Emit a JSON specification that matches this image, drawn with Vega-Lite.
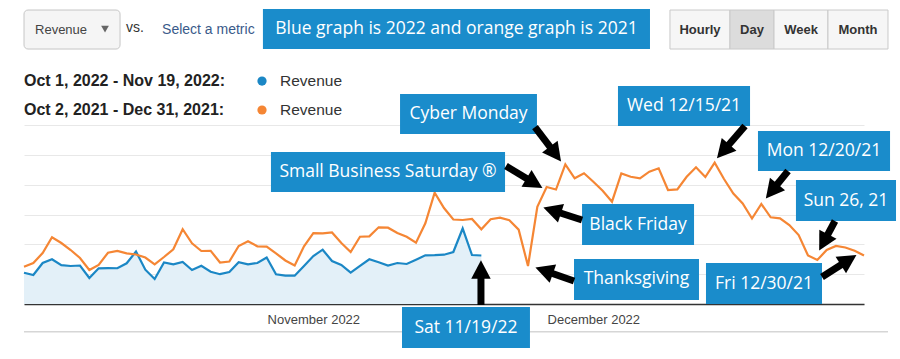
{
  "$schema": "https://vega.github.io/schema/vega-lite/v6.json",
  "width": 840,
  "height": 179,
  "autosize": {"type": "none"},
  "padding": {"left": 24, "top": 125, "right": 36, "bottom": 55},
  "background": "white",
  "config": {"view": {"stroke": null}},
  "datasets": {
    "series": [
      {"period":"2022","day":0,"revenue":1259},{"period":"2022","day":1,"revenue":1166},{"period":"2022","day":2,"revenue":1649},{"period":"2022","day":3,"revenue":1802},{"period":"2022","day":4,"revenue":1561},{"period":"2022","day":5,"revenue":1528},{"period":"2022","day":6,"revenue":1548},{"period":"2022","day":7,"revenue":1046},{"period":"2022","day":8,"revenue":1436},{"period":"2022","day":9,"revenue":1440},
      {"period":"2022","day":10,"revenue":1438},{"period":"2022","day":11,"revenue":1637},{"period":"2022","day":12,"revenue":2112},{"period":"2022","day":13,"revenue":1380},{"period":"2022","day":14,"revenue":1006},{"period":"2022","day":15,"revenue":1669},{"period":"2022","day":16,"revenue":1597},{"period":"2022","day":17,"revenue":1689},{"period":"2022","day":18,"revenue":1367},{"period":"2022","day":19,"revenue":1536},
      {"period":"2022","day":20,"revenue":1299},{"period":"2022","day":21,"revenue":1199},{"period":"2022","day":22,"revenue":1287},{"period":"2022","day":23,"revenue":1681},{"period":"2022","day":24,"revenue":1597},{"period":"2022","day":25,"revenue":1649},{"period":"2022","day":26,"revenue":1870},{"period":"2022","day":27,"revenue":1195},{"period":"2022","day":28,"revenue":1138},{"period":"2022","day":29,"revenue":1140},
      {"period":"2022","day":30,"revenue":1528},{"period":"2022","day":31,"revenue":1931},{"period":"2022","day":32,"revenue":2184},{"period":"2022","day":33,"revenue":1729},{"period":"2022","day":34,"revenue":1569},{"period":"2022","day":35,"revenue":1259},{"period":"2022","day":36,"revenue":1530},{"period":"2022","day":37,"revenue":1798},{"period":"2022","day":38,"revenue":1677},{"period":"2022","day":39,"revenue":1548},
      {"period":"2022","day":40,"revenue":1649},{"period":"2022","day":41,"revenue":1609},{"period":"2022","day":42,"revenue":1782},{"period":"2022","day":43,"revenue":1959},{"period":"2022","day":44,"revenue":1963},{"period":"2022","day":45,"revenue":1983},{"period":"2022","day":46,"revenue":2091},{"period":"2022","day":47,"revenue":3037},{"period":"2022","day":48,"revenue":1971},{"period":"2022","day":49,"revenue":1951},
      {"period":"2021","day":0,"revenue":1500},{"period":"2021","day":1,"revenue":1649},{"period":"2021","day":2,"revenue":2051},{"period":"2021","day":3,"revenue":2683},{"period":"2021","day":4,"revenue":2453},{"period":"2021","day":5,"revenue":2172},{"period":"2021","day":6,"revenue":1850},{"period":"2021","day":7,"revenue":1367},{"period":"2021","day":8,"revenue":1569},{"period":"2021","day":9,"revenue":2063},
      {"period":"2021","day":10,"revenue":2132},{"period":"2021","day":11,"revenue":2039},{"period":"2021","day":12,"revenue":1991},{"period":"2021","day":13,"revenue":1870},{"period":"2021","day":14,"revenue":1597},{"period":"2021","day":15,"revenue":1890},{"period":"2021","day":16,"revenue":2200},{"period":"2021","day":17,"revenue":3008},{"period":"2021","day":18,"revenue":2441},{"period":"2021","day":19,"revenue":2132},
      {"period":"2021","day":20,"revenue":2140},{"period":"2021","day":21,"revenue":1669},{"period":"2021","day":22,"revenue":1709},{"period":"2021","day":23,"revenue":2333},{"period":"2021","day":24,"revenue":2522},{"period":"2021","day":25,"revenue":2321},{"period":"2021","day":26,"revenue":2305},{"period":"2021","day":27,"revenue":2039},{"period":"2021","day":28,"revenue":1750},{"period":"2021","day":29,"revenue":1548},
      {"period":"2021","day":30,"revenue":2321},{"period":"2021","day":31,"revenue":2848},{"period":"2021","day":32,"revenue":2840},{"period":"2021","day":33,"revenue":2876},{"period":"2021","day":34,"revenue":2453},{"period":"2021","day":35,"revenue":2091},{"period":"2021","day":36,"revenue":2707},{"period":"2021","day":37,"revenue":2723},{"period":"2021","day":38,"revenue":3085},{"period":"2021","day":39,"revenue":3069},
      {"period":"2021","day":40,"revenue":2856},{"period":"2021","day":41,"revenue":2707},{"period":"2021","day":42,"revenue":2466},{"period":"2021","day":43,"revenue":3246},{"period":"2021","day":44,"revenue":4476},{"period":"2021","day":45,"revenue":3861},{"period":"2021","day":46,"revenue":3399},{"period":"2021","day":47,"revenue":3378},{"period":"2021","day":48,"revenue":3419},{"period":"2021","day":49,"revenue":3004},
      {"period":"2021","day":50,"revenue":3410},{"period":"2021","day":51,"revenue":3471},{"period":"2021","day":52,"revenue":3370},{"period":"2021","day":53,"revenue":2990},{"period":"2021","day":54,"revenue":1528},{"period":"2021","day":55,"revenue":3913},{"period":"2021","day":56,"revenue":4706},{"period":"2021","day":57,"revenue":4605},{"period":"2021","day":58,"revenue":5619},{"period":"2021","day":59,"revenue":5056},
      {"period":"2021","day":60,"revenue":5257},{"period":"2021","day":61,"revenue":4919},{"period":"2021","day":62,"revenue":4553},{"period":"2021","day":63,"revenue":4115},{"period":"2021","day":64,"revenue":5250},{"period":"2021","day":65,"revenue":5120},{"period":"2021","day":66,"revenue":5050},{"period":"2021","day":67,"revenue":5321},{"period":"2021","day":68,"revenue":5458},{"period":"2021","day":69,"revenue":4585},
      {"period":"2021","day":70,"revenue":4613},{"period":"2021","day":71,"revenue":5115},{"period":"2021","day":72,"revenue":5498},{"period":"2021","day":73,"revenue":5108},{"period":"2021","day":74,"revenue":5683},{"period":"2021","day":75,"revenue":5028},{"period":"2021","day":76,"revenue":4444},{"period":"2021","day":77,"revenue":4042},{"period":"2021","day":78,"revenue":3439},{"period":"2021","day":79,"revenue":4022},
      {"period":"2021","day":80,"revenue":3487},{"period":"2021","day":81,"revenue":3447},{"period":"2021","day":82,"revenue":3177},{"period":"2021","day":83,"revenue":2775},{"period":"2021","day":84,"revenue":1951},{"period":"2021","day":85,"revenue":1770},{"period":"2021","day":86,"revenue":2172},{"period":"2021","day":87,"revenue":2333},{"period":"2021","day":88,"revenue":2272},{"period":"2021","day":89,"revenue":2144},
      {"period":"2021","day":90,"revenue":1950}
    ],
    "notes": [
      {"label":"Blue graph is 2022 and orange graph is 2021","d1":25.6,"d2":67.07,"vTop":11865,"vBot":10256},
      {"label":"Cyber Monday","d1":40.29,"d2":54.96,"vTop":8446,"vBot":6837},
      {"label":"Wed 12/15/21","d1":63.64,"d2":77.79,"vTop":8768,"vBot":7159},
      {"label":"Small Business Saturday ®","d1":26.46,"d2":51.54,"vTop":6113,"vBot":4505},
      {"label":"Mon 12/20/21","d1":78.64,"d2":92.79,"vTop":6958,"vBot":5349},
      {"label":"Sun 26, 21","d1":82.71,"d2":93.43,"vTop":4987,"vBot":3338},
      {"label":"Black Friday","d1":59.79,"d2":71.79,"vTop":4022,"vBot":2373},
      {"label":"Thanksgiving","d1":58.93,"d2":72.32,"vTop":1810,"vBot":161},
      {"label":"Fri 12/30/21","d1":73.07,"d2":85.5,"vTop":1649,"vBot":0},
      {"label":"Sat 11/19/22","d1":40.5,"d2":54.21,"vTop":-121,"vBot":-1770}
    ],
    "arrows": [
      {"label":"Cyber Monday","fromDay":54.75,"fromRevenue":7119,"toDay":56.91,"toRevenue":6049},
      {"label":"Wed 12/15/21","fromDay":77.25,"fromRevenue":7159,"toDay":74.93,"toRevenue":6154},
      {"label":"Small Business Saturday","fromDay":51.64,"fromRevenue":5550,"toDay":54.65,"toRevenue":4871},
      {"label":"Black Friday","fromDay":59.79,"fromRevenue":3378,"toDay":56.64,"toRevenue":3761},
      {"label":"Thanksgiving","fromDay":58.93,"fromRevenue":925,"toDay":55.78,"toRevenue":1339},
      {"label":"Mon 12/20/21","fromDay":81.86,"fromRevenue":5349,"toDay":80.14,"toRevenue":4553},
      {"label":"Sun 26, 21","fromDay":86.89,"fromRevenue":3338,"toDay":85.69,"toRevenue":2494},
      {"label":"Fri 12/30/21","fromDay":85.5,"fromRevenue":1086,"toDay":88.31,"toRevenue":1758},
      {"label":"Sat 11/19/22","fromDay":48.96,"fromRevenue":-40,"toDay":48.96,"toRevenue":1367}
    ],
    "buttons": [
      {"label":"Hourly","state":"off","d1":69.21,"d2":75.64,"vTop":11825,"vBot":10256},
      {"label":"Day","state":"on","d1":75.64,"d2":80.36,"vTop":11825,"vBot":10256},
      {"label":"Week","state":"off","d1":80.36,"d2":86.14,"vTop":11825,"vBot":10256},
      {"label":"Month","state":"off","d1":86.14,"d2":92.57,"vTop":11825,"vBot":10256}
    ],
    "legendRows": [
      {"period":"2022","range":"Oct 1, 2022 - Nov 19, 2022:","metric":"Revenue","v":8969},
      {"period":"2021","range":"Oct 2, 2021 - Dec 31, 2021:","metric":"Revenue","v":7803}
    ]
  },
  "layer": [
    {
      "data": {"name": "series"},
      "transform": [{"filter": "datum.period == '2022'"}],
      "mark": {"type": "area", "color": "#e3f0f8", "opacity": 1},
      "encoding": {
        "x": {"field": "day", "type": "quantitative", "title": null,
          "scale": {"domain": [0, 90], "nice": false, "zero": false},
          "axis": {"values": [31, 61], "labelExpr": "datum.value == 31 ? 'November 2022' : 'December 2022'", "grid": false, "ticks": false, "domain": true, "domainColor": "#333333", "domainWidth": 1.5, "labelFont": "Liberation Sans", "labelFontSize": 13, "labelColor": "#444444", "labelPadding": 9}},
        "y": {"field": "revenue", "type": "quantitative", "title": null,
          "scale": {"domain": [0, 7200], "nice": false},
          "axis": {"values": [0, 1200, 2400, 3600, 4800, 6000, 7200], "tickCount": 12, "labels": false, "ticks": false, "domain": false, "grid": true, "gridColor": "#e8e8e8", "gridWidth": 1}}
      }
    },
    {
      "data": {"name": "series"},
      "mark": {"type": "line", "strokeWidth": 2.2},
      "encoding": {
        "x": {"field": "day", "type": "quantitative", "title": null},
        "y": {"field": "revenue", "type": "quantitative", "title": null},
        "color": {"field": "period", "type": "nominal", "legend": null, "scale": {"domain": ["2022", "2021"], "range": ["#1b87c5", "#f58634"]}}
      }
    },
    {
      "data": {"values": [{"from": 0, "to": 92.57, "level": -1114}]},
      "mark": {"type": "rule", "color": "#d6d6d6", "strokeWidth": 1.5},
      "encoding": {
        "x": {"field": "from", "type": "quantitative", "title": null},
        "x2": {"field": "to"},
        "y": {"field": "level", "type": "quantitative", "title": null}
      }
    },
    {
      "data": {"name": "notes"},
      "mark": {"type": "rect", "color": "#1a8ccb"},
      "encoding": {
        "x": {"field": "d1", "type": "quantitative", "title": null},
        "x2": {"field": "d2"},
        "y": {"field": "vTop", "type": "quantitative", "title": null},
        "y2": {"field": "vBot"}
      }
    },
    {
      "data": {"name": "notes"},
      "transform": [
        {"calculate": "(datum.d1 + datum.d2) / 2", "as": "dMid"},
        {"calculate": "(datum.vTop + datum.vBot) / 2", "as": "vMid"}
      ],
      "mark": {"type": "text", "color": "white", "font": "Open Sans", "fontSize": 17.5, "align": "center", "baseline": "middle"},
      "encoding": {
        "x": {"field": "dMid", "type": "quantitative", "title": null},
        "y": {"field": "vMid", "type": "quantitative", "title": null},
        "text": {"field": "label"}
      }
    },
    {
      "data": {"name": "arrows"},
      "mark": {"type": "rule", "color": "black", "strokeWidth": 7},
      "encoding": {
        "x": {"field": "fromDay", "type": "quantitative", "title": null},
        "y": {"field": "fromRevenue", "type": "quantitative", "title": null},
        "x2": {"field": "toDay"},
        "y2": {"field": "toRevenue"}
      }
    },
    {
      "data": {"name": "arrows"},
      "transform": [
        {"calculate": "atan2((datum.toDay - datum.fromDay) * 9.3333, (datum.toRevenue - datum.fromRevenue) * 0.02486) * 180 / PI", "as": "heading"}
      ],
      "mark": {"type": "point", "shape": "M0,-1L1,0.9L-1,0.9Z", "filled": true, "opacity": 1, "color": "black", "size": 380},
      "encoding": {
        "x": {"field": "toDay", "type": "quantitative", "title": null},
        "y": {"field": "toRevenue", "type": "quantitative", "title": null},
        "angle": {"field": "heading", "type": "quantitative", "scale": null}
      }
    },
    {
      "data": {"values": [{"control": "Revenue", "d1": 0, "d2": 10.29, "vTop": 11825, "vBot": 10256}]},
      "mark": {"type": "rect", "fill": "#f5f5f5", "stroke": "#c6c6c6", "strokeWidth": 1, "cornerRadius": 4},
      "encoding": {
        "x": {"field": "d1", "type": "quantitative", "title": null},
        "x2": {"field": "d2"},
        "y": {"field": "vTop", "type": "quantitative", "title": null},
        "y2": {"field": "vBot"}
      }
    },
    {
      "data": {"values": [{"control": "Revenue", "day": 1.18, "v": 11020}]},
      "mark": {"type": "text", "font": "Liberation Sans", "fontSize": 13, "color": "#444444", "align": "left", "baseline": "middle"},
      "encoding": {
        "x": {"field": "day", "type": "quantitative", "title": null},
        "y": {"field": "v", "type": "quantitative", "title": null},
        "text": {"field": "control"}
      }
    },
    {
      "data": {"values": [{"control": "Revenue", "day": 8.68, "v": 11060}]},
      "mark": {"type": "point", "shape": "triangle-down", "filled": true, "opacity": 1, "color": "#666666", "size": 60},
      "encoding": {
        "x": {"field": "day", "type": "quantitative", "title": null},
        "y": {"field": "v", "type": "quantitative", "title": null}
      }
    },
    {
      "data": {"values": [{"word": "vs.", "day": 10.93, "v": 11100}]},
      "mark": {"type": "text", "font": "Liberation Sans", "fontSize": 14, "color": "#333333", "align": "left", "baseline": "middle"},
      "encoding": {
        "x": {"field": "day", "type": "quantitative", "title": null},
        "y": {"field": "v", "type": "quantitative", "title": null},
        "text": {"field": "word"}
      }
    },
    {
      "data": {"values": [{"word": "Select a metric", "day": 14.79, "v": 11020}]},
      "mark": {"type": "text", "font": "Liberation Sans", "fontSize": 14, "color": "#3a5a8a", "align": "left", "baseline": "middle"},
      "encoding": {
        "x": {"field": "day", "type": "quantitative", "title": null},
        "y": {"field": "v", "type": "quantitative", "title": null},
        "text": {"field": "word"}
      }
    },
    {
      "data": {"name": "buttons"},
      "mark": {"type": "rect", "stroke": "#c9c9c9", "strokeWidth": 1},
      "encoding": {
        "x": {"field": "d1", "type": "quantitative", "title": null},
        "x2": {"field": "d2"},
        "y": {"field": "vTop", "type": "quantitative", "title": null},
        "y2": {"field": "vBot"},
        "fill": {"condition": {"test": "datum.state == 'on'", "value": "#dcdcdc"}, "value": "#f6f6f6"}
      }
    },
    {
      "data": {"name": "buttons"},
      "transform": [
        {"calculate": "(datum.d1 + datum.d2) / 2", "as": "dMid"},
        {"calculate": "(datum.vTop + datum.vBot) / 2", "as": "vMid"}
      ],
      "mark": {"type": "text", "font": "Liberation Sans", "fontSize": 13, "fontWeight": "bold", "color": "#333333", "align": "center", "baseline": "middle"},
      "encoding": {
        "x": {"field": "dMid", "type": "quantitative", "title": null},
        "y": {"field": "vMid", "type": "quantitative", "title": null},
        "text": {"field": "label"}
      }
    },
    {
      "data": {"name": "legendRows"},
      "mark": {"type": "text", "font": "Liberation Sans", "fontSize": 16, "fontWeight": "bold", "color": "#222222", "align": "left", "baseline": "middle"},
      "encoding": {
        "x": {"datum": 0, "type": "quantitative", "title": null},
        "y": {"field": "v", "type": "quantitative", "title": null},
        "text": {"field": "range"}
      }
    },
    {
      "data": {"name": "legendRows"},
      "mark": {"type": "point", "shape": "circle", "filled": true, "opacity": 1, "size": 85},
      "encoding": {
        "x": {"datum": 25.5, "type": "quantitative", "title": null},
        "y": {"field": "v", "type": "quantitative", "title": null},
        "color": {"field": "period", "type": "nominal", "legend": null}
      }
    },
    {
      "data": {"name": "legendRows"},
      "mark": {"type": "text", "font": "Liberation Sans", "fontSize": 15.5, "color": "#333333", "align": "left", "baseline": "middle"},
      "encoding": {
        "x": {"datum": 27.43, "type": "quantitative", "title": null},
        "y": {"field": "v", "type": "quantitative", "title": null},
        "text": {"field": "metric"}
      }
    }
  ]
}
